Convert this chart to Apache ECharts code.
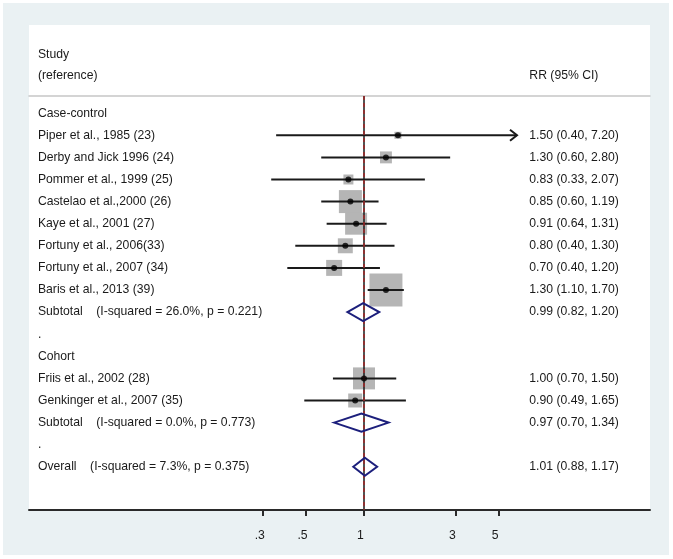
<!DOCTYPE html>
<html><head><meta charset="utf-8">
<script src="https://cdn.jsdelivr.net/npm/echarts@6/dist/echarts.min.js"></script>
<style>html,body{margin:0;padding:0;background:#fff}#c{width:673px;height:559px}</style>
</head><body><div id="c"></div>
<script>
// ---------- data ----------
const rowLabels = [
  "Case-control",
  "Piper et al., 1985 (23)",
  "Derby and Jick 1996 (24)",
  "Pommer et al., 1999 (25)",
  "Castelao et al.,2000 (26)",
  "Kaye et al., 2001 (27)",
  "Fortuny et al., 2006(33)",
  "Fortuny et al., 2007 (34)",
  "Baris et al., 2013 (39)",
  "Subtotal    (I-squared = 26.0%, p = 0.221)",
  ".",
  "Cohort",
  "Friis et al., 2002 (28)",
  "Genkinger et al., 2007 (35)",
  "Subtotal    (I-squared = 0.0%, p = 0.773)",
  ".",
  "Overall    (I-squared = 7.3%, p = 0.375)"
];
// individual studies
const studyRows = [1, 2, 3, 4, 5, 6, 7, 8, 12, 13];
const studyRR   = [1.50, 1.30, 0.83, 0.85, 0.91, 0.80, 0.70, 1.30, 1.00, 0.90];
const studyLo   = [0.35, 0.60, 0.33, 0.60, 0.64, 0.44, 0.40, 1.045, 0.69, 0.49];
const studyHi   = [7.20, 2.80, 2.07, 1.19, 1.31, 1.44, 1.21, 1.61, 1.47, 1.65];
const studyWeight = [1.4, 4.0, 2.8, 14.9, 13.6, 6.3, 7.2, 30.6, 13.6, 5.5];
const studyCIText = [
  "1.50 (0.40, 7.20)", "1.30 (0.60, 2.80)", "0.83 (0.33, 2.07)", "0.85 (0.60, 1.19)",
  "0.91 (0.64, 1.31)", "0.80 (0.40, 1.30)", "0.70 (0.40, 1.20)", "1.30 (1.10, 1.70)",
  "1.00 (0.70, 1.50)", "0.90 (0.49, 1.65)"
];
// pooled estimates
const poolRows = [9, 14, 16];
const poolRR   = [0.99, 0.97, 1.01];
const poolLo   = [0.82, 0.70, 0.88];
const poolHi   = [1.20, 1.34, 1.17];
const poolCIText = ["0.99 (0.82, 1.20)", "0.97 (0.70, 1.34)", "1.01 (0.88, 1.17)"];
// axis
const tickValues = [0.3, 0.5, 1, 3, 5];
const tickLabels = [".3", ".5", "1", "3", "5"];
const nullValue = 1;
const overallValue = 1.01;

// ---------- layout helpers ----------
const L = Math.log10;
const X_MIN = -1.7384, X_MAX = 1.4842;
const Y_MIN = -0.778, Y_MAX = 17.955;
const CLIP_HI = 0.794;          // log10 value where long CIs are cut with an arrow
const TEXT_LEFT_X = -1.692;     // left text column (log units)
const TEXT_RIGHT_X = 0.858;     // right text column (log units)
const FONT = '"Liberation Sans", Arial, sans-serif';
const FS = 12.2;
const TXT = '#1a1a1a';

const texts = [];
rowLabels.forEach((t, i) => texts.push({x: TEXT_LEFT_X, row: i, text: t}));
studyRows.forEach((r, i) => texts.push({x: TEXT_RIGHT_X, row: r, text: studyCIText[i]}));
poolRows.forEach((r, i) => texts.push({x: TEXT_RIGHT_X, row: r, text: poolCIText[i]}));
texts.push({x: TEXT_LEFT_X, row: -2.67, text: "Study"});
texts.push({x: TEXT_LEFT_X, row: -1.72, text: "(reference)"});
texts.push({x: TEXT_RIGHT_X, row: -1.72, text: "RR (95% CI)"});

const tickLog = tickValues.map(L);

const chart = echarts.init(document.getElementById('c'), null, {renderer: 'canvas'});
chart.setOption({
  animation: false,
  backgroundColor: '#ffffff',
  graphic: [
    {type: 'rect', z: -100, shape: {x: 3, y: 3, width: 666, height: 552}, style: {fill: '#eaf1f3'}},
    {type: 'rect', z: -99, shape: {x: 29, y: 25, width: 621, height: 485}, style: {fill: '#ffffff'}}
  ],
  grid: {left: 29, right: 23, top: 96, bottom: 49, containLabel: false},
  xAxis: [{
    type: 'value', min: X_MIN, max: X_MAX, position: 'bottom',
    axisLine: {show: true, onZero: false, lineStyle: {color: '#2a2a2a', width: 2}},
    axisTick: {show: true, customValues: tickLog, length: 6, inside: false, lineStyle: {color: '#2a2a2a', width: 2}},
    axisLabel: {
      customValues: tickLog, margin: 20, color: TXT, fontSize: FS, fontFamily: FONT,
      padding: [0, 7, 0, 0],
      formatter: v => { const i = tickLog.findIndex(t => Math.abs(t - v) < 1e-6); return i >= 0 ? tickLabels[i] : ''; }
    },
    splitLine: {show: false}
  }, {
    type: 'value', min: X_MIN, max: X_MAX, position: 'top',
    axisLine: {show: true, onZero: false, lineStyle: {color: '#c6c6c6', width: 1.5}},
    axisTick: {show: false}, axisLabel: {show: false}, splitLine: {show: false}
  }],
  yAxis: {type: 'value', min: Y_MIN, max: Y_MAX, inverse: true, show: false},
  series: [
    { // weight squares
      type: 'custom', z: 2,
      data: studyRows.map((r, i) => [L(studyRR[i]), r, studyWeight[i]]),
      encode: {x: 0, y: 1},
      renderItem: (params, api) => {
        const p = api.coord([api.value(0), api.value(1)]);
        const s = 5.96 * Math.sqrt(api.value(2));
        return {type: 'rect', shape: {x: p[0] - s / 2, y: p[1] - s / 2, width: s, height: s}, style: {fill: '#b5b5b5'}};
      }
    },
    { // reference lines
      type: 'line', z: 3, data: [], symbol: 'none',
      markLine: {
        silent: true, symbol: ['none', 'none'], label: {show: false},
        data: [
          {xAxis: L(nullValue), lineStyle: {color: '#1a1a1a', width: 1.5, type: 'solid'}},
          {xAxis: L(overallValue), lineStyle: {color: '#a02828', width: 1.5, type: [4, 3]}}
        ]
      }
    },
    { // confidence intervals
      type: 'custom', z: 4,
      data: studyRows.map((r, i) => [r, L(studyLo[i]), L(studyHi[i])]),
      encode: {x: [1, 2], y: 0},
      renderItem: (params, api) => {
        const row = api.value(0), lo = api.value(1), hi = api.value(2);
        const hc = Math.min(hi, CLIP_HI);
        const a = api.coord([lo, row]), b = api.coord([hc, row]);
        const ch = [{type: 'line', shape: {x1: a[0], y1: a[1], x2: b[0], y2: b[1]}, style: {stroke: '#1a1a1a', lineWidth: 2}}];
        if (hi > CLIP_HI) {
          ch.push({type: 'polyline', shape: {points: [[b[0] - 7, b[1] - 5.5], [b[0], b[1]], [b[0] - 7, b[1] + 5.5]]},
                   style: {stroke: '#1a1a1a', lineWidth: 2, fill: null}});
        }
        return {type: 'group', children: ch};
      }
    },
    { // point estimates
      type: 'scatter', z: 5, symbol: 'circle', symbolSize: 6,
      itemStyle: {color: '#000'},
      data: studyRows.map((r, i) => [L(studyRR[i]), r])
    },
    { // pooled diamonds
      type: 'custom', z: 5,
      data: poolRows.map((r, i) => [r, L(poolLo[i]), L(poolRR[i]), L(poolHi[i])]),
      encode: {x: [1, 2, 3], y: 0},
      renderItem: (params, api) => {
        const row = api.value(0);
        const a = api.coord([api.value(1), row]), m = api.coord([api.value(2), row]), b = api.coord([api.value(3), row]);
        const h = 9;
        return {type: 'polygon', shape: {points: [[a[0], a[1]], [m[0], m[1] - h], [b[0], b[1]], [m[0], m[1] + h]]},
                style: {stroke: '#1c1f7c', lineWidth: 2, fill: null}};
      }
    },
    { // text columns
      type: 'custom', z: 6, clip: false,
      data: texts.map(t => [t.x, t.row]),
      encode: {x: 0, y: 1},
      renderItem: (params, api) => {
        const p = api.coord([api.value(0), api.value(1)]);
        return {type: 'text', x: p[0], y: p[1],
                style: {text: texts[params.dataIndex].text, fill: TXT, fontSize: FS, fontFamily: FONT,
                        align: 'left', verticalAlign: 'middle'}};
      }
    }
  ]
});
</script></body></html>
